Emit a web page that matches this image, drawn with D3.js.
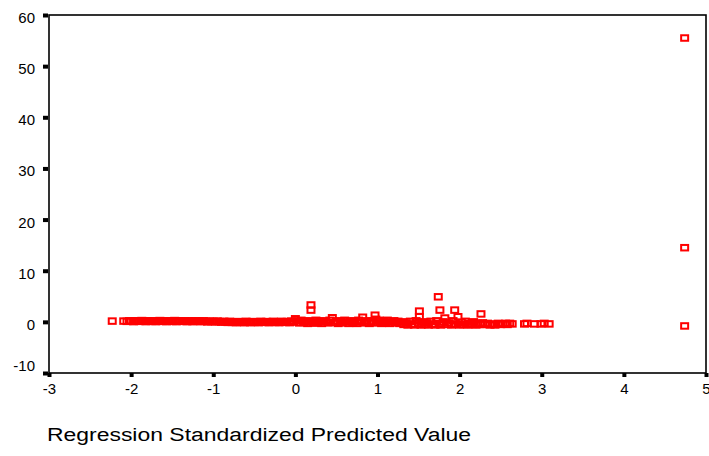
<!DOCTYPE html>
<html>
<head>
<meta charset="utf-8">
<script src="https://cdn.jsdelivr.net/npm/d3@7"></script>
<style>
    body { margin: 0; background: #fff; }
    svg { display: block; font-family: "Liberation Sans", Arial, sans-serif; }
</style>
</head>
<body>
<div id="chart"></div>
<script>
// tick values and axis title
const xTicks = [-3, -2, -1, 0, 1, 2, 3, 4, 5];
const yTicks = [-10, 0, 10, 20, 30, 40, 50, 60];
const xTitle = "Regression Standardized Predicted Value";

// [standardized predicted value, residual]
const bandLeft = [
    [-2.09, 0.15], [-2.05, 0.1], [-2.02, 0.2], [-2.00, 0.15], [-1.97, 0.05], [-1.95, 0.2], [-1.92, 0.15],
    [-1.90, 0.1], [-1.87, 0.25], [-1.85, 0.15], [-1.82, 0.05], [-1.80, 0.2], [-1.77, 0.15], [-1.75, 0.1],
    [-1.72, 0.2], [-1.70, 0.05], [-1.67, 0.15], [-1.65, 0.25], [-1.62, 0.1], [-1.60, 0.15], [-1.57, 0.05],
    [-1.55, 0.2], [-1.52, 0.15], [-1.50, 0.1], [-1.47, 0.25], [-1.45, 0.05], [-1.42, 0.15], [-1.40, 0.2],
    [-1.37, 0.1], [-1.35, 0.15], [-1.32, 0.05], [-1.30, 0.2], [-1.27, 0.15], [-1.25, 0.05], [-1.22, 0.2],
    [-1.20, 0.1], [-1.17, 0.15], [-1.15, 0.05], [-1.12, 0.2], [-1.10, 0.1], [-1.07, 0.0], [-1.05, 0.15],
    [-1.02, 0.05], [-1.00, 0.1], [-0.97, 0.0], [-0.95, 0.15], [-0.92, 0.05], [-0.90, -0.05], [-0.87, 0.1],
    [-0.85, 0.0], [-0.82, -0.1]
];

const bandMid = [
    [-0.80, 0.1], [-0.77, -0.1], [-0.75, 0.0], [-0.72, -0.15], [-0.70, 0.05], [-0.67, -0.1], [-0.65, 0.0],
    [-0.62, -0.15], [-0.60, 0.1], [-0.57, -0.05], [-0.55, -0.15], [-0.52, 0.05], [-0.50, -0.1], [-0.47, 0.0],
    [-0.45, -0.15], [-0.42, 0.1], [-0.40, -0.05], [-0.37, -0.1], [-0.35, 0.05], [-0.32, -0.15], [-0.30, 0.0],
    [-0.27, 0.1], [-0.25, -0.1], [-0.22, 0.0], [-0.20, -0.15], [-0.17, 0.1], [-0.15, -0.05], [-0.12, -0.1],
    [-0.10, 0.05], [-0.07, -0.15], [-0.05, 0.15], [-0.02, -0.05], [0.00, 0.6]
];

const bandRight = [
    [0.02, 0.2], [0.05, -0.2], [0.07, 0.3], [0.10, -0.1], [0.12, 0.1], [0.15, -0.3], [0.17, 0.2],
    [0.20, 0.0], [0.22, -0.25], [0.25, 0.3], [0.27, -0.1], [0.30, 0.1], [0.32, -0.3], [0.35, 0.2],
    [0.37, 0.0], [0.40, -0.2], [0.42, 0.3], [0.45, 0.8], [0.47, -0.1], [0.50, 0.2], [0.52, -0.3],
    [0.55, 0.1], [0.57, -0.2], [0.60, 0.3], [0.62, 0.0], [0.65, -0.3], [0.67, 0.2], [0.70, -0.1],
    [0.72, 0.1], [0.75, -0.3], [0.77, 0.3], [0.80, 0.0], [0.82, 0.9], [0.85, -0.2], [0.87, 0.2],
    [0.90, -0.3], [0.92, 0.1], [0.95, -0.1], [0.97, 1.3], [0.98, 0.5], [1.00, -0.2], [1.02, 0.3],
    [1.05, -0.3], [1.07, 0.1], [1.10, -0.1], [1.12, 0.3], [1.15, -0.3], [1.17, 0.0], [1.20, 0.2],
    [1.22, -0.2], [1.25, 0.1], [1.27, -0.3], [1.30, 0.0],
    [1.32, -0.5], [1.35, -0.2], [1.37, -0.6], [1.40, 0.1], [1.42, -0.4], [1.45, -0.6], [1.47, 0.2],
    [1.50, -0.3], [1.51, 1.0], [1.53, -0.6], [1.55, 0.0], [1.57, -0.5], [1.60, -0.2], [1.62, -0.6],
    [1.65, 0.1], [1.67, -0.4], [1.70, -0.6], [1.72, 0.2], [1.75, -0.3], [1.77, -0.6], [1.80, 0.0],
    [1.82, 0.75], [1.85, -0.5], [1.87, -0.2], [1.90, -0.6], [1.92, 0.2], [1.95, -0.4], [1.98, 1.0],
    [2.00, -0.6], [2.02, -0.1], [2.05, -0.5], [2.07, 0.1], [2.10, -0.6], [2.12, -0.3], [2.15, -0.5],
    [2.17, 0.0], [2.20, -0.6], [2.22, -0.3], [2.25, -0.5], [2.28, -0.2]
];

const tailPoints = [
    [2.31, -0.5], [2.34, -0.3], [2.37, -0.6], [2.40, -0.4], [2.43, -0.6], [2.47, -0.3], [2.50, -0.5],
    [2.53, -0.4], [2.56, -0.3], [2.58, -0.5], [2.61, -0.3], [2.64, -0.4],
    [2.79, -0.4], [2.82, -0.3], [2.91, -0.4], [2.99, -0.4], [3.03, -0.3], [3.09, -0.4]
];

const outliers = [
    [-2.23, 0.15], [0.19, 3.3], [0.19, 2.3], [1.51, 2.1], [1.74, 4.9], [1.76, 2.3], [1.94, 2.3],
    [2.26, 1.55], [4.74, 55.5], [4.74, 14.5], [4.74, -0.8]
];

const
    width = 709,
    height = 456,
    margin = { top: 15, right: 3, bottom: 83, left: 49 },
    markerColor = "#ff0000",
    svg = d3.select("#chart").append("svg").attr("width", width).attr("height", height);

const xScale = d3.scaleLinear()
    .domain([xTicks[0], xTicks[xTicks.length - 1]])
    .range([margin.left, width - margin.right]);

const yScale = d3.scaleLinear()
    .domain([yTicks[0], yTicks[yTicks.length - 1]])
    .range([height - margin.bottom, margin.top]);

// plot frame
svg.append("rect")
    .attr("x", margin.left)
    .attr("y", margin.top)
    .attr("width", width - margin.left - margin.right)
    .attr("height", height - margin.top - margin.bottom)
    .attr("fill", "none")
    .attr("stroke", "#000")
    .attr("stroke-width", 1.6);

// y axis: square tick marks, labels slightly off the ticks as in SPSS output
svg.append("g")
    .attr("transform", `translate(${margin.left},0)`)
    .call(d3.axisLeft(yScale).tickValues(yTicks).tickSize(0).tickPadding(14).tickFormat(d => String(d)))
    .call(g => g.select(".domain").remove())
    .call(g => g.selectAll(".tick").append("rect")
        .attr("x", -6).attr("y", -2).attr("width", 5).attr("height", 4).attr("fill", "#000"))
    .call(g => g.selectAll(".tick text")
        .attr("fill", "#000")
        .attr("font-size", 15)
        .attr("font-family", "Liberation Sans, Arial, sans-serif")
        .attr("dy", d => d === yTicks[0] ? "-0.15em" : "0.5em"));

// x axis
svg.append("g")
    .attr("transform", `translate(0,${height - margin.bottom})`)
    .call(d3.axisBottom(xScale).tickValues(xTicks).tickSize(0).tickPadding(10).tickFormat(d => String(d)))
    .call(g => g.select(".domain").remove())
    .call(g => g.selectAll(".tick").append("rect")
        .attr("x", -2).attr("y", 0).attr("width", 4).attr("height", 4).attr("fill", "#000"))
    .call(g => g.selectAll(".tick text")
        .attr("fill", "#000")
        .attr("font-size", 15)
        .attr("font-family", "Liberation Sans, Arial, sans-serif"));

svg.append("text")
    .attr("x", 47)
    .attr("y", 441)
    .attr("font-size", 18)
    .attr("fill", "#000")
    .attr("textLength", 424)
    .attr("lengthAdjust", "spacingAndGlyphs")
    .text(xTitle);

function drawPoints(data, name) {
    svg.append("g")
        .attr("class", "points-" + name)
        .selectAll("rect")
        .data(data)
        .enter().append("rect")
        .attr("x", d => xScale(d[0]) - 3.5)
        .attr("y", d => yScale(d[1]) - 2.75)
        .attr("width", 7)
        .attr("height", 5.5)
        .attr("fill", "none")
        .attr("stroke", markerColor)
        .attr("stroke-width", 2);
}

drawPoints(bandLeft, "left");
drawPoints(bandMid, "mid");
drawPoints(bandRight, "right");
drawPoints(tailPoints, "tail");
drawPoints(outliers, "outliers");
</script>
</body>
</html>
